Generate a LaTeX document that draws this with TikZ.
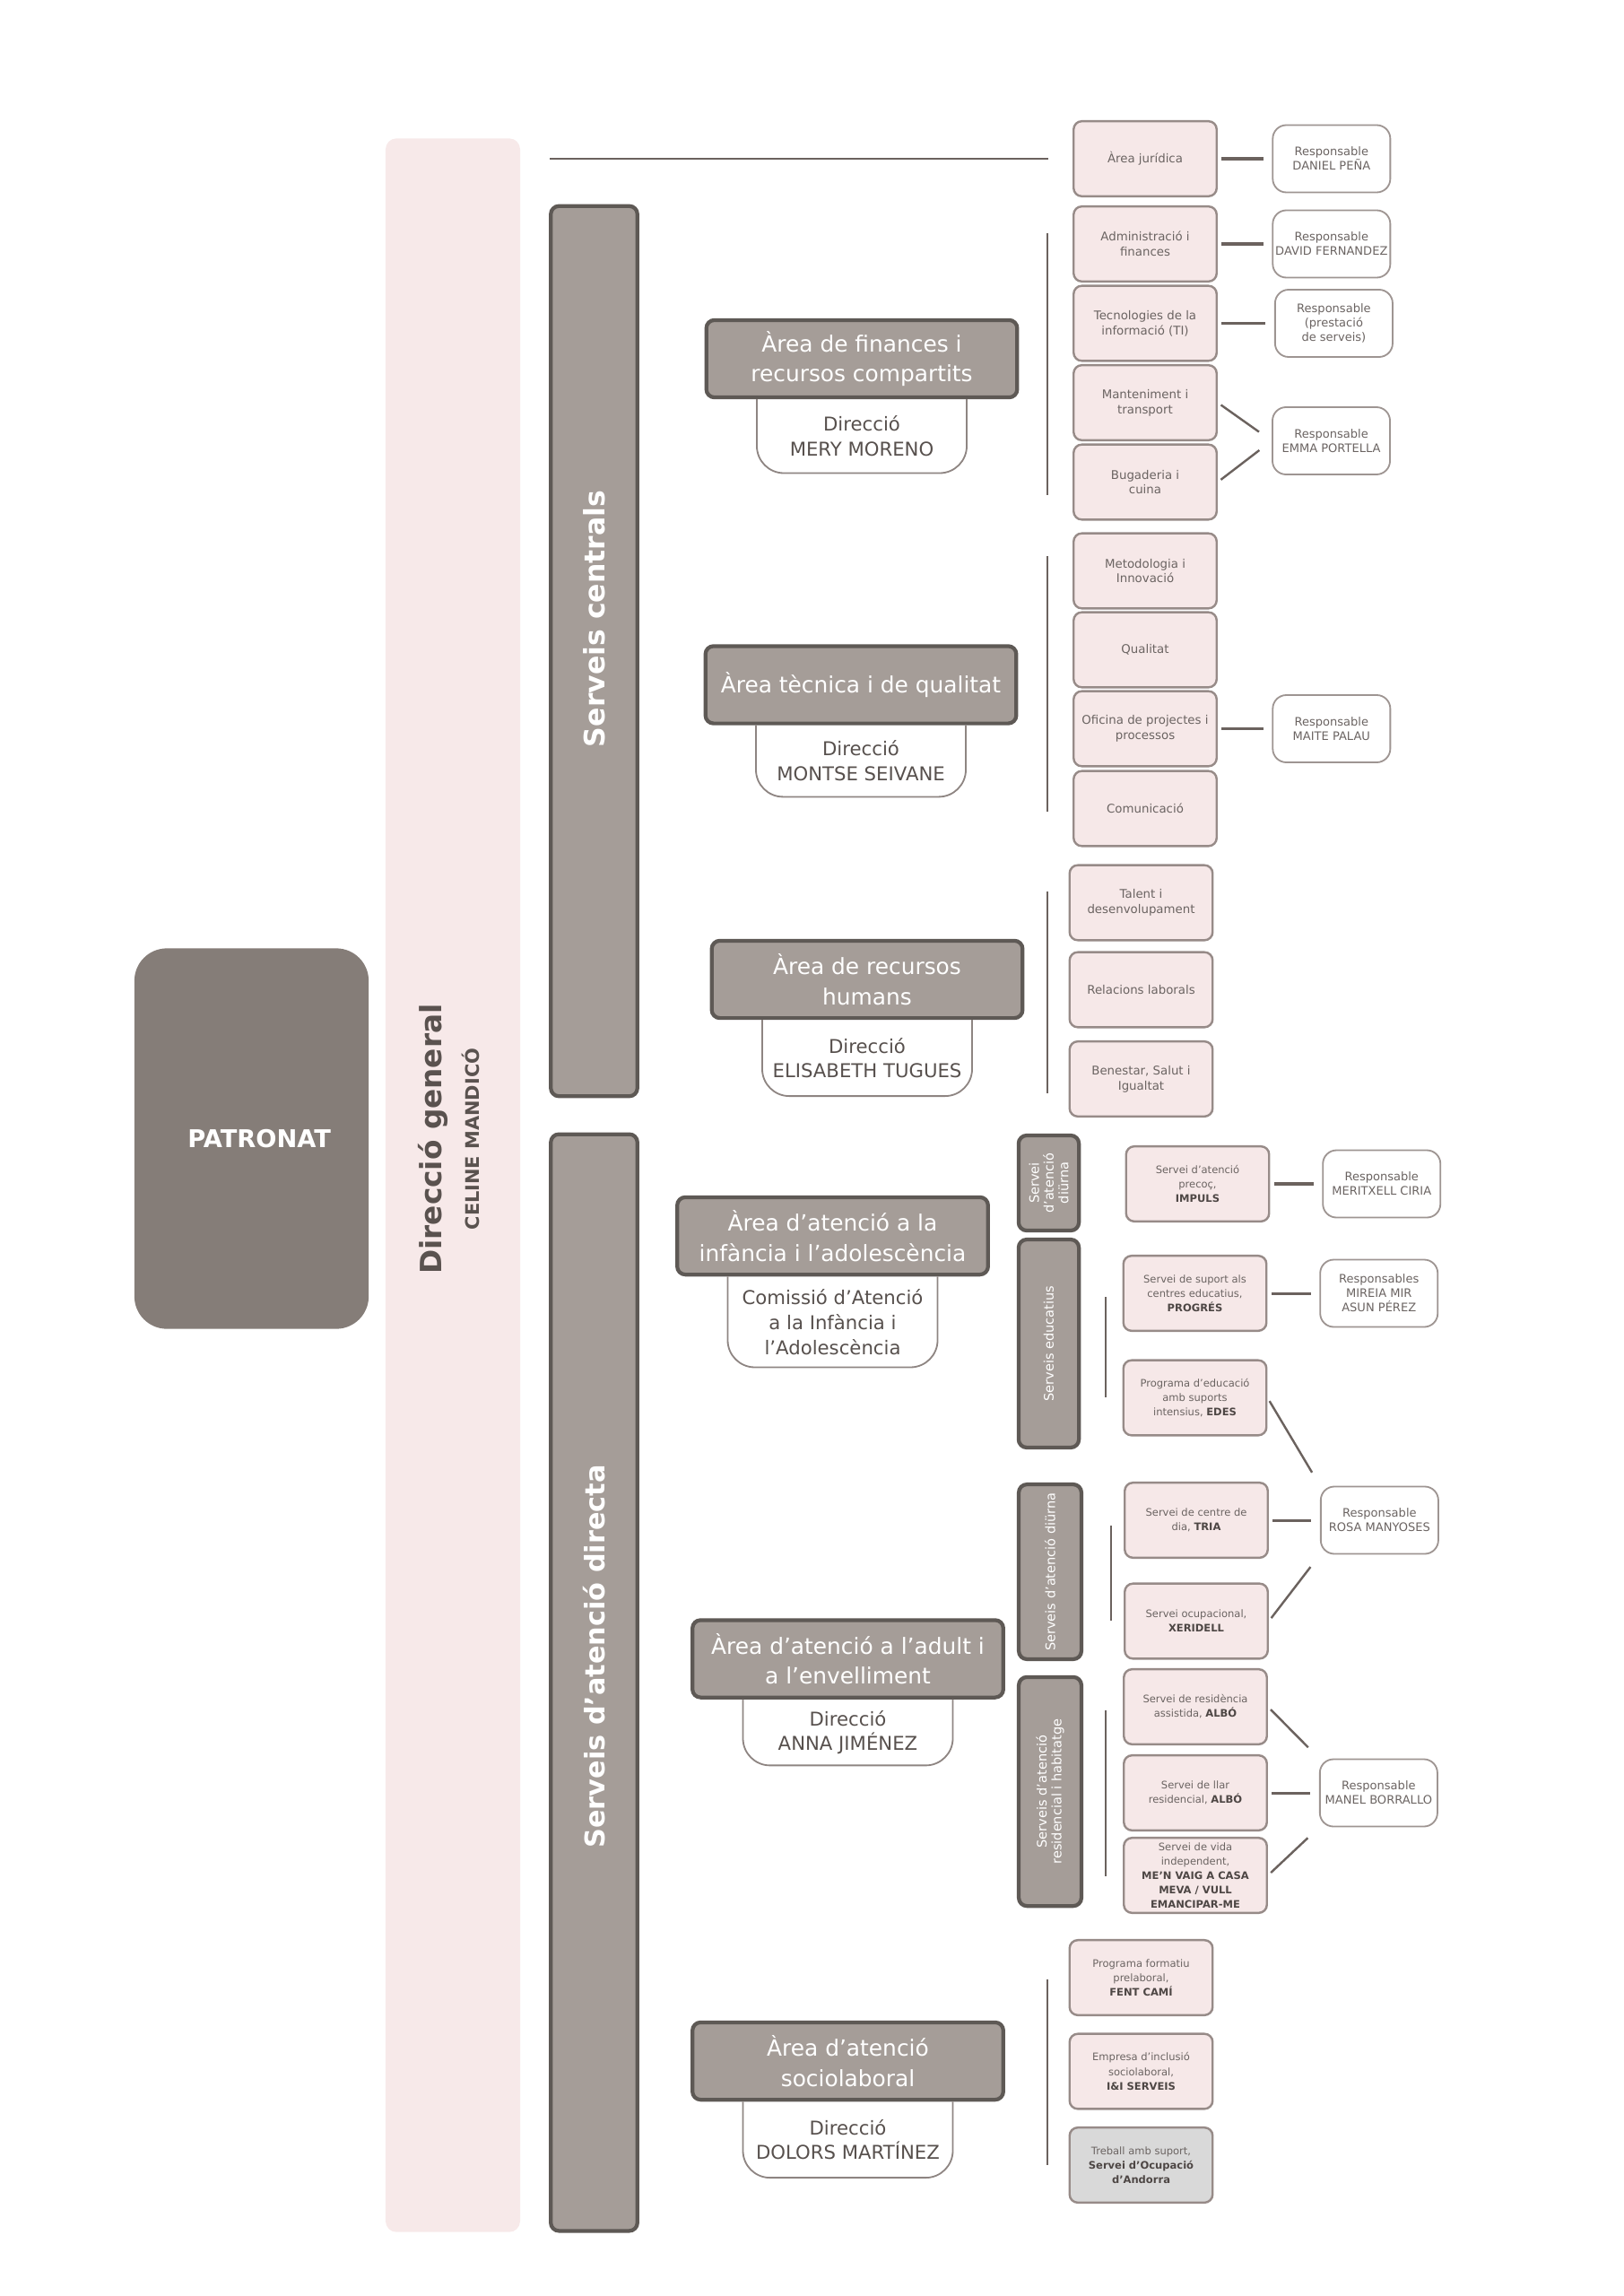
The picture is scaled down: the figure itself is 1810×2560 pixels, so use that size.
\documentclass[tikz,border=0pt]{standalone}
\usepackage{fontspec}
\setmainfont{DejaVu Sans}
\usetikzlibrary{positioning}
\definecolor{patgray}{HTML}{857D78}
\definecolor{barfill}{HTML}{A59D98}
\definecolor{baredge}{HTML}{5E5955}
\definecolor{dgpink}{HTML}{F7E9E9}
\definecolor{svcfill}{HTML}{F6E8E8}
\definecolor{svcedge}{HTML}{978B88}
\definecolor{respedge}{HTML}{9E9592}
\definecolor{tabedge}{HTML}{8E8582}
\definecolor{linegray}{HTML}{6B625E}
\definecolor{txtgray}{HTML}{6B6462}
\definecolor{nametxt}{HTML}{4D4644}
\definecolor{tabtxt}{HTML}{57504D}
\definecolor{dgtxt}{HTML}{5A524F}
\definecolor{trebfill}{HTML}{D9D9D9}
\newcommand\nm[1]{\textbf{\color{nametxt}#1}}
\tikzset{
  svc/.style={draw=svcedge, fill=svcfill, line width=0.8pt, rounded corners=3pt,
    minimum width=1.85cm, minimum height=0.97cm, align=center, inner sep=1pt,
    text=txtgray, font=\fontsize{4.4}{5.5}\selectfont},
  svcd/.style={svc, font=\fontsize{3.8}{5.3}\selectfont},
  resp/.style={draw=respedge, fill=white, line width=0.6pt, rounded corners=5pt,
    minimum width=1.52cm, minimum height=0.87cm, align=center, inner sep=0.5pt,
    text=txtgray, font=\fontsize{4.3}{5.3}\selectfont},
  area/.style={draw=baredge, fill=barfill, line width=1.4pt, rounded corners=3pt,
    minimum width=4.02cm, minimum height=1.0cm, align=center, inner sep=1pt,
    text=white, font=\fontsize{8.2}{11}\selectfont},
  tab/.style={minimum width=2.7cm, align=center, inner sep=0pt,
    text=tabtxt, font=\fontsize{7}{9.2}\selectfont},
  tabline/.style={draw=tabedge, line width=0.6pt, rounded corners=0.35cm},
  bar/.style={draw=baredge, fill=barfill, line width=1.4pt, rounded corners=3pt,
    minimum width=1.12cm},
  bartxt/.style={rotate=90, text=white, font=\fontsize{10.4}{12}\selectfont\bfseries},
  subbar/.style={draw=baredge, fill=barfill, line width=1.4pt, rounded corners=3pt,
    rotate=90, align=center, inner sep=0pt, text=white,
    font=\fontsize{4.8}{5.4}\selectfont},
  conn/.style={draw=linegray, line width=1pt, shorten <=0.05cm, shorten >=0.11cm},
  diag/.style={conn, line width=0.8pt, shorten >=0.2cm},
  brk/.style={draw=linegray, line width=0.8pt}
}
\begin{document}
\begin{tikzpicture}[x=0.011602cm, y=-0.011602cm]
  \useasboundingbox (0,0) rectangle (1810,2560);

  \node (PAT) [fill=patgray, rounded corners=0.42cm, minimum width=3.03cm, minimum height=4.92cm,
    text=white, font=\fontsize{9}{11}\selectfont\bfseries] at (280.5,1269.5) {\hspace*{0.2cm}PATRONAT};
  \node (DG) [fill=dgpink, rounded corners=4pt, minimum width=1.74cm, minimum height=27.07cm] at (505,1321.5) {};
  \node (DGT) [rotate=90, text=dgtxt, font=\fontsize{10.8}{12}\selectfont\bfseries] at (483,1270) {Direcció general};
  \node (CEL) [rotate=90, text=dgtxt, font=\fontsize{6.9}{8}\selectfont\bfseries] at (525,1270) {CELINE MANDICÓ};

  \node (SC) [bar, minimum height=11.51cm] at (662.5,726) {};
  \node (SCT) [bartxt] at (662.5,690) {Serveis centrals};
  \node (SAD) [bar, minimum height=14.18cm] at (662.5,1876) {};
  \node (SADT) [bartxt, font=\fontsize{10}{12}\selectfont\bfseries] at (662.5,1847) {Serveis d’atenció directa};

  \node (FIN) [area] at (961,400) {Àrea de finances i\\recursos compartits};
  \node (DFIN) [tab, below=0pt of FIN, minimum height=0.94cm] {Direcció\\MERY MORENO};
  \node (TEC) [area] at (960,763.5) {Àrea tècnica i de qualitat};
  \node (DTEC) [tab, below=0pt of TEC, minimum height=0.91cm] {Direcció\\MONTSE SEIVANE};
  \node (RRHH) [area] at (967,1092) {Àrea de recursos\\humans};
  \node (DRRHH) [tab, below=0pt of RRHH, minimum height=0.97cm] {Direcció\\ELISABETH TUGUES};
  \node (INF) [area] at (928.5,1378) {Àrea d’atenció a la\\infància i l’adolescència};
  \node (DINF) [tab, below=0pt of INF, minimum height=1.16cm] {Comissió d’Atenció\\a la Infància i\\l’Adolescència};
  \node (ADU) [area] at (945.5,1849.5) {Àrea d’atenció a l’adult i\\a l’envelliment};
  \node (DADU) [tab, below=0pt of ADU, minimum height=0.84cm] {Direcció\\ANNA JIMÉNEZ};
  \node (SOC) [area] at (945.5,2298) {Àrea d’atenció\\sociolaboral};
  \node (DSOC) [tab, below=0pt of SOC, minimum height=0.97cm] {Direcció\\DOLORS MARTÍNEZ};
  \foreach \t in {DFIN,DTEC,DRRHH,DINF,DADU,DSOC}
    \draw[tabline] (\t.north west) -- (\t.south west) -- (\t.south east) -- (\t.north east);

  \node (JUR) [svc] at (1277,177) {Àrea jurídica};
  \node (ADM) [svc] at (1277,272) {Administració i\\finances};
  \node (TI) [svc] at (1277,360.5) {Tecnologies de la\\informació (TI)};
  \node (MANT) [svc] at (1277,449) {Manteniment i\\transport};
  \node (BUG) [svc] at (1277,537.5) {Bugaderia i\\cuina};
  \node (MET) [svc] at (1277,636.5) {Metodologia i\\Innovació};
  \node (QUAL) [svc] at (1277,724.5) {Qualitat};
  \node (OFI) [svc] at (1277,812.5) {Oficina de projectes i\\processos};
  \node (COM) [svc] at (1277,901.5) {Comunicació};
  \node (TAL) [svc] at (1272.5,1006.5) {Talent i\\desenvolupament};
  \node (REL) [svc] at (1272.5,1103.5) {Relacions laborals};
  \node (BEN) [svc] at (1272.5,1203) {Benestar, Salut i\\Igualtat};

  \node (RJUR) [resp, right of=JUR, node distance=2.41cm] {Responsable\\DANIEL PEÑA};
  \node (RDAV) [resp, right of=ADM, node distance=2.41cm] {Responsable\\DAVID FERNANDEZ};
  \node (RTI) [resp, right of=TI, node distance=2.44cm] {Responsable\\(prestació\\de serveis)};
  \node (REMMA) [resp] at (1484.5,491.5) {Responsable\\EMMA PORTELLA};
  \node (RMAI) [resp, right of=OFI, node distance=2.41cm] {Responsable\\MAITE PALAU};

  \node (SD1) [subbar, minimum width=1.23cm, minimum height=0.78cm] at (1169.5,1319) {Servei\\d’atenció\\diürna};
  \node (SEDU) [subbar, minimum width=2.69cm, minimum height=0.78cm] at (1169.5,1498) {Serveis educatius};
  \node (SD2) [subbar, minimum width=2.26cm, minimum height=0.81cm] at (1171,1752.5) {Serveis d’atenció diürna};
  \node (SRES) [subbar, minimum width=2.96cm, minimum height=0.81cm] at (1171,1997.5) {Serveis d’atenció\\residencial i habitatge};

  \node (IMP) [svcd] at (1335.5,1320) {Servei d’atenció\\precoç,\\\nm{IMPULS}};
  \node (PROG) [svcd] at (1332.5,1442) {Servei de suport als\\centres educatius,\\\nm{PROGRÉS}};
  \node (EDES) [svcd] at (1332.5,1558.5) {Programa d’educació\\amb suports\\intensius, \nm{EDES}};
  \node (TRIA) [svcd] at (1334,1695) {Servei de centre de\\dia, \nm{TRIA}};
  \node (XER) [svcd] at (1334,1807.5) {Servei ocupacional,\\\nm{XERIDELL}};
  \node (ALBO1) [svcd] at (1333,1903) {Servei de residència\\assistida, \nm{ALBÓ}};
  \node (ALBO2) [svcd] at (1333,1999) {Servei de llar\\residencial, \nm{ALBÓ}};
  \node (VIDA) [svcd] at (1333,2091) {Servei de vida\\independent,\\\nm{ME’N VAIG A CASA}\\\nm{MEVA / VULL}\\\nm{EMANCIPAR-ME}};
  \node (FENT) [svcd] at (1272.5,2205) {Programa formatiu\\prelaboral,\\\nm{FENT CAMÍ}};
  \node (EMP) [svcd] at (1272.5,2309.5) {Empresa d’inclusió\\sociolaboral,\\\nm{I\&I SERVEIS}};
  \node (TREB) [svcd, fill=trebfill] at (1272.5,2414) {Treball amb suport,\\\nm{Servei d’Ocupació}\\\nm{d’Andorra}};

  \node (RMER) [resp, right of=IMP, node distance=2.38cm] {Responsable\\MERITXELL CIRIA};
  \node (RMIR) [resp, right of=PROG, node distance=2.38cm] {Responsables\\MIREIA MIR\\ASUN PÉREZ};
  \node (RROSA) [resp, right of=TRIA, node distance=2.37cm] {Responsable\\ROSA MANYOSES};
  \node (RMAN) [resp, right of=ALBO2, node distance=2.37cm] {Responsable\\MANEL BORRALLO};

  \coordinate (TL) at (613,177);
  \coordinate (TR) at (1169,177);
  \coordinate (B1a) at (1168,260);
  \coordinate (B1b) at (1168,552);
  \coordinate (B2a) at (1168,620);
  \coordinate (B2b) at (1168,905);
  \coordinate (B3a) at (1168,994);
  \coordinate (B3b) at (1168,1219);
  \coordinate (B4a) at (1233,1446);
  \coordinate (B4b) at (1233,1558);
  \coordinate (B5a) at (1239,1701);
  \coordinate (B5b) at (1239,1807);
  \coordinate (B6a) at (1233,1907);
  \coordinate (B6b) at (1233,2092);
  \coordinate (B7a) at (1168,2207);
  \coordinate (B7b) at (1168,2414);
  \draw[brk] (TL) -- (TR);
  \draw[brk] (B1a) -- (B1b)  (B2a) -- (B2b)  (B3a) -- (B3b)  (B4a) -- (B4b)
             (B5a) -- (B5b)  (B6a) -- (B6b)  (B7a) -- (B7b);

  \path[conn] (JUR) edge (RJUR)
              (ADM) edge (RDAV)
              (TI) edge (RTI)
              (OFI) edge (RMAI)
              (IMP) edge (RMER)
              (PROG) edge (RMIR)
              (TRIA) edge (RROSA)
              (ALBO2) edge (RMAN);
  \path[diag] (MANT.east) edge (REMMA.west)
              (BUG.east) edge (REMMA.west)
              (EDES.east) edge (RROSA.north west)
              (XER.east) edge (RROSA.south west)
              (ALBO1.east) edge (RMAN.north west)
              (VIDA.east) edge (RMAN.south west);
\end{tikzpicture}
\end{document}
